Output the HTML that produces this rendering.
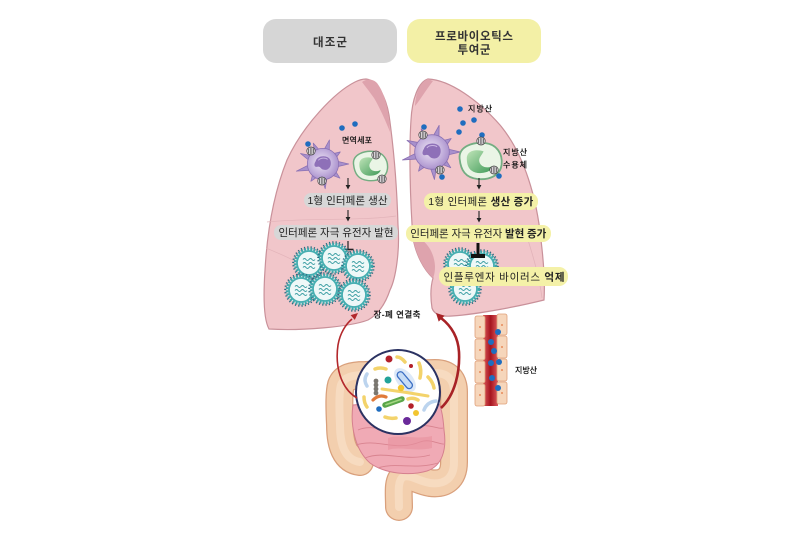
<!DOCTYPE html>
<html><head><meta charset="utf-8"><style>
html,body{margin:0;padding:0;background:#fff;}
svg{display:block;}
text{font-family:"Liberation Sans","Noto Sans CJK KR",sans-serif;}
.sm{fill:#111;stroke:#111;stroke-width:0.25;}
</style></head><body>
<svg width="800" height="539" viewBox="0 0 800 539" xmlns="http://www.w3.org/2000/svg">
<defs>
<radialGradient id="pg" cx="0.45" cy="0.45" r="0.6"><stop offset="0" stop-color="#eee6f4"/><stop offset="0.6" stop-color="#c4b1dd"/><stop offset="1" stop-color="#a58bc9"/></radialGradient>
<linearGradient id="gn" x1="0" y1="0" x2="1" y2="1"><stop offset="0" stop-color="#bfe4b8"/><stop offset="1" stop-color="#3f9a58"/></linearGradient>
<linearGradient id="vr" x1="0" x2="1"><stop offset="0" stop-color="#dc5a5c"/><stop offset="0.5" stop-color="#a5141f"/><stop offset="1" stop-color="#dc5a5c"/></linearGradient>
<g id="dc">
<g fill="#a890cc" stroke="#8a70b3" stroke-width="0.8" stroke-linejoin="round">
<polygon points="14.7,-3.1 28,0 14.7,3.1"/>
<polygon points="13.2,7 18.4,15.4 9.2,11.8"/>
<polygon points="4.4,14.3 2.4,26.9 -1.8,14.9"/>
<polygon points="-5.9,13.8 -13.2,18.8 -11,10.2"/>
<polygon points="-13.4,6.8 -29,7.8 -15,0.8"/>
<polygon points="-14.6,-3.4 -24.5,-11.4 -12,-9"/>
<polygon points="-9,-12 -10.6,-22.7 -3.4,-14.6"/>
<polygon points="0.8,-15 7,-26.1 6.8,-13.4"/>
<polygon points="10.2,-11 18.8,-13.2 13.8,-5.9"/>
</g>
<circle r="17" fill="url(#pg)" stroke="#8a70b3" stroke-width="0.8"/>
<path d="M-8,-3 C-6,-10 6,-10 8,-4 C10,2 6,8 0,6 C-3,5 -3,2 -6,3 C-10,4 -10,0 -8,-3 Z" fill="#8e70b8"/>
<path d="M-5,-4 C-3,-7 3,-7 5,-5" fill="none" stroke="#c9b5e2" stroke-width="1"/>
</g>
<g id="gc">
<path d="M-17,-2 C-18,-12 -6,-16 4,-15 C14,-14 19,-6 18,3 C17,12 8,16 -2,15 C-12,14 -16,8 -17,-2 Z" fill="#eaf5e6" stroke="#74ad82" stroke-width="1.5"/>
<path d="M-11,-2 C-11,-9 -3,-10 3,-8 C1,-4 -2,-2 0,2 C2,6 8,6 11,4 C10,10 -2,12 -7,8 C-10,6 -11,2 -11,-2 Z" fill="url(#gn)"/>
</g>
<g id="rc"><ellipse rx="4.2" ry="4" fill="#f3eef3" stroke="#3a3a3a" stroke-width="0.7"/><path d="M-2.5,-2.5v5M-0.8,-3.2v6.4M0.9,-3.2v6.4M2.6,-2.5v5" stroke="#3a3a3a" stroke-width="0.7"/></g>
<g id="vi">
<circle r="15.8" fill="none" stroke="#2d6a80" stroke-width="2" stroke-dasharray="1.2 2.1"/>
<circle r="14" fill="#d8eff0" stroke="#3fa6aa" stroke-width="2.6" stroke-dasharray="2 1.2"/>
<circle r="12" fill="#eef8f8" stroke="#47aeb1" stroke-width="1.8"/>
<path d="M-6,-3.5 q1.5,-2 3,0 t3,0 t3,0 t3,0 M-6,0.5 q1.5,-2 3,0 t3,0 t3,0 t3,0 M-6,4.5 q1.5,-2 3,0 t3,0 t3,0 t3,0" fill="none" stroke="#3c9ea3" stroke-width="1"/>
</g>
</defs>

<!-- headers -->
<rect x="263" y="19" width="134" height="44" rx="13" fill="#d6d6d6"/>
<text x="330" y="46" font-size="11.5" font-weight="bold" text-anchor="middle" fill="#333" textLength="34">대조군</text>
<rect x="407" y="19" width="134" height="44" rx="13" fill="#f3f0a6"/>
<text x="474" y="40" font-size="11.5" font-weight="bold" text-anchor="middle" fill="#333" textLength="78">프로바이오틱스</text>
<text x="474" y="53.5" font-size="11.5" font-weight="bold" text-anchor="middle" fill="#333" textLength="33">투여군</text>

<!-- left lung -->
<path d="M366,79 C377,80 386,97 389,115 C394,150 397,190 398,225 C400,250 396,278 390,290 C385,305 377,315 368,320 C350,327 300,331 269,329 C264,320 263,300 265,270 C267,235 273,195 287,160 C303,125 335,92 355,82 C359,80 362,79 366,79 Z" fill="#f1c6ca" stroke="#c9919a" stroke-width="1.2"/>
<path d="M362,82 C366,79 372,78 377,83 C384,92 389,108 390,132 C386,122 380,108 374,98 C369,91 365,86 362,82 Z" fill="#dea3ad"/>
<path d="M267,222 C300,218 360,221 396,216 M266,248 C285,256 300,262 310,272" fill="none" stroke="#e2b3b9" stroke-width="0.7"/>

<!-- right lung -->
<path d="M428,79 C450,80 478,100 500,125 C525,155 537,200 541,240 C544,265 545,285 544,300 C520,306 480,314 452,316 C440,317 434,314 432,308 C430,295 431,285 433,278 C424,270 416,255 413,238 C410,200 409,150 411,120 C412,100 418,82 428,79 Z" fill="#f1c6ca" stroke="#c9919a" stroke-width="1.2"/>
<path d="M428,79 C420,82 416,92 415,106 C420,100 426,90 433,81 Z" fill="#dea3ad"/>
<path d="M413,236 C424,238 434,250 435,266 C435,272 434,276 433,278 C424,270 416,255 413,238 Z" fill="#dea3ad"/>
<path d="M528,240 C535,262 540,282 542,298" fill="none" stroke="#e2b3b9" stroke-width="0.8"/>

<!-- left cells -->
<circle cx="342" cy="128" r="2.8" fill="#1f6dbf"/>
<circle cx="355" cy="124" r="2.8" fill="#1f6dbf"/>
<circle cx="308" cy="144" r="2.8" fill="#1f6dbf"/>
<use href="#dc" transform="translate(323,164) scale(0.92)"/>
<use href="#gc" transform="translate(370,166) scale(0.97)"/>
<use href="#rc" x="311" y="151"/>
<use href="#rc" x="322" y="181"/>
<use href="#rc" x="376" y="155"/>
<use href="#rc" x="382" y="179"/>
<text class="sm" x="357" y="143" font-size="8" text-anchor="middle" textLength="30">면역세포</text>

<!-- left flow -->
<line x1="348" y1="178" x2="348" y2="186" stroke="#222" stroke-width="1.1"/>
<polygon points="345.6,185 350.4,185 348,189.5" fill="#222"/>
<rect x="304" y="193" width="87" height="14.5" rx="7" fill="#d7d7d7"/>
<text x="347.5" y="203.8" font-size="10.5" text-anchor="middle" fill="#222" textLength="80">1형 인터페론 생산</text>
<line x1="348" y1="210" x2="348" y2="218" stroke="#222" stroke-width="1.1"/>
<polygon points="345.6,217 350.4,217 348,221.5" fill="#222"/>
<rect x="274" y="225" width="124" height="15" rx="7" fill="#d7d7d7"/>
<text x="336" y="236.2" font-size="10.5" text-anchor="middle" fill="#222" textLength="115">인터페론 자극 유전자 발현</text>
<line x1="348" y1="241" x2="348" y2="249" stroke="#222" stroke-width="1.2"/>
<line x1="342.5" y1="249.5" x2="353.5" y2="249.5" stroke="#222" stroke-width="1.6"/>

<!-- left viruses -->
<use href="#vi" x="309" y="263"/>
<use href="#vi" x="334" y="258"/>
<use href="#vi" x="358" y="266"/>
<use href="#vi" x="301" y="290"/>
<use href="#vi" x="325" y="289"/>
<use href="#vi" x="354" y="295"/>

<!-- right cells -->
<use href="#dc" transform="translate(432,152) scale(1.02)"/>
<use href="#gc" transform="translate(480,161) scale(1.2)"/>
<circle cx="460" cy="109" r="2.8" fill="#1f6dbf"/>
<circle cx="463" cy="123" r="2.8" fill="#1f6dbf"/>
<circle cx="474" cy="120" r="2.8" fill="#1f6dbf"/>
<circle cx="459" cy="132" r="2.8" fill="#1f6dbf"/>
<circle cx="424" cy="127" r="2.8" fill="#1f6dbf"/>
<circle cx="482" cy="135" r="2.8" fill="#1f6dbf"/>
<circle cx="442" cy="177" r="2.8" fill="#1f6dbf"/>
<circle cx="499" cy="176" r="2.8" fill="#1f6dbf"/>
<use href="#rc" x="423" y="135"/>
<use href="#rc" x="440" y="170"/>
<use href="#rc" x="481" y="141"/>
<use href="#rc" x="494" y="170"/>
<text class="sm" x="468" y="111.5" font-size="8" textLength="24">지방산</text>
<text class="sm" x="503" y="155" font-size="8" textLength="24">지방산</text>
<text class="sm" x="503" y="167.5" font-size="8" textLength="24">수용체</text>

<!-- right flow -->
<line x1="479" y1="178" x2="479" y2="186" stroke="#222" stroke-width="1.1"/>
<polygon points="476.6,185 481.4,185 479,189.5" fill="#222"/>
<rect x="424" y="193" width="114" height="17" rx="8" fill="#f4f1a8"/>
<text x="480.8" y="205.2" font-size="10.5" text-anchor="middle" fill="#222" textLength="105">1형 인터페론 <tspan font-weight="bold">생산 증가</tspan></text>
<line x1="479" y1="211" x2="479" y2="219" stroke="#222" stroke-width="1.1"/>
<polygon points="476.6,218 481.4,218 479,222.5" fill="#222"/>
<rect x="406" y="225" width="145" height="17" rx="8" fill="#f4f1a8"/>
<text x="478.3" y="237.2" font-size="10.5" text-anchor="middle" fill="#222" textLength="136">인터페론 자극 유전자 <tspan font-weight="bold">발현 증가</tspan></text>

<!-- right viruses -->
<use href="#vi" x="460" y="264"/>
<use href="#vi" x="482" y="266"/>
<use href="#vi" x="465" y="289"/>
<line x1="478" y1="243" x2="478" y2="255" stroke="#111" stroke-width="3"/>
<rect x="471" y="254" width="14" height="4" fill="#111"/>
<rect x="439" y="267" width="129" height="19" rx="9" fill="#f4f1a8"/>
<text x="504" y="280.3" font-size="10.5" text-anchor="middle" fill="#222" textLength="121">인플루엔자 바이러스 <tspan font-weight="bold">억제</tspan></text>

<text class="sm" x="397" y="317.5" font-size="8.5" text-anchor="middle" textLength="47">장-폐 연결축</text>

<!-- gut: colon -->
<path d="M360,462 C345,460 340,445 340,425 C339,405 339,392 341,385 C344,377 352,375 365,375 L435,373 C448,373 454,380 454,392 L454,462 C454,478 445,485 430,483 C418,481 410,474 403,477 C397,481 399,495 399,507" fill="none" stroke="#d9a07c" stroke-width="28" stroke-linecap="round" stroke-linejoin="round"/>
<path d="M360,462 C345,460 340,445 340,425 C339,405 339,392 341,385 C344,377 352,375 365,375 L435,373 C448,373 454,380 454,392 L454,462 C454,478 445,485 430,483 C418,481 410,474 403,477 C397,481 399,495 399,507" fill="none" stroke="#f3cfae" stroke-width="25.5" stroke-linecap="round" stroke-linejoin="round"/>
<path d="M360,462 C345,460 340,445 340,425 C339,405 339,392 341,385 C344,377 352,375 365,375 L435,373 C448,373 454,380 454,392 L454,462 C454,478 445,485 430,483 C418,481 410,474 403,477 C397,481 399,495 399,507" fill="none" stroke="#f8e0c8" stroke-width="8" stroke-linecap="round" stroke-linejoin="round" opacity="0.7"/>
<!-- small intestine -->
<path d="M353,405 C350,425 355,450 370,463 C385,474 410,476 427,471 C442,466 447,450 444,430 C443,415 441,405 436,398 Z" fill="#f0aab5" stroke="#d5808e" stroke-width="1"/>
<path d="M358,430 C375,422 395,438 415,428 C428,422 438,430 443,428 M356,445 C378,438 395,452 420,442 C430,438 440,445 444,444 M365,458 C385,450 405,462 430,455 M378,468 C395,462 415,470 438,463" fill="none" stroke="#d8838f" stroke-width="0.9"/>
<path d="M388,438 C400,434 415,440 432,436 L432,448 C415,452 400,446 388,450 Z" fill="#e8919e" opacity="0.6"/>

<!-- microbiome circle -->
<circle cx="398" cy="392" r="42" fill="#fff" stroke="#2b3262" stroke-width="2"/>
<ellipse cx="405" cy="380" rx="14" ry="8" transform="rotate(50 405 380)" fill="#dce8f8"/>
<rect x="395" y="377" width="20" height="6.5" rx="3.2" transform="rotate(50 405 380)" fill="#c7dcf5" stroke="#3b6fc4" stroke-width="1.3"/>
<g fill="none" stroke="#f3d36b" stroke-linecap="round" stroke-width="3.5">
<path d="M397,357 Q401,357 405,362"/>
<path d="M419,363 Q422,370 420,378"/>
<path d="M375,369 Q380,367 386,369"/>
<path d="M382,389 Q405,392 428,396" stroke-width="3"/>
<path d="M428,377 Q433,382 434,388"/>
<path d="M364,397 Q364,403 367,407"/>
<path d="M385,417 Q390,419 396,418"/>
<path d="M408,399 Q413,397 418,400"/>
</g>
<g fill="none" stroke="#bcd4ee" stroke-linecap="round" stroke-width="3.5">
<path d="M367,374 Q363,380 367,386"/>
<path d="M424,410 Q427,402 436,401"/>
</g>
<path d="M373,400 Q379,394 386,397" fill="none" stroke="#e07a3a" stroke-width="3.2" stroke-linecap="round"/>
<line x1="385" y1="405" x2="402" y2="399" stroke="#5aa64a" stroke-width="5.5" stroke-linecap="round"/>
<line x1="386" y1="404.6" x2="401" y2="399.4" stroke="#a4d682" stroke-width="1.6" stroke-linecap="round"/>
<g fill="#7a7770"><circle cx="376" cy="381" r="2.4"/><circle cx="376" cy="385" r="2.4"/><circle cx="376" cy="389" r="2.4"/><circle cx="376" cy="393" r="2.4"/></g>
<circle cx="389" cy="359" r="3.5" fill="#b3202a"/>
<circle cx="411" cy="366" r="2" fill="#b3202a"/>
<circle cx="411" cy="406" r="2.8" fill="#b3202a"/>
<circle cx="388" cy="380" r="3.5" fill="#23a39a"/>
<circle cx="401" cy="388" r="3.2" fill="#f2c531"/>
<circle cx="416" cy="413" r="3" fill="#f2c531"/>
<circle cx="379" cy="409" r="2.8" fill="#1f6dbf"/>
<circle cx="407" cy="421" r="4" fill="#6a2a9a"/>

<!-- red arcs -->
<path d="M357,398 C340,388 335,365 338,345 C340,333 346,324 352,319" fill="none" stroke="#b3282c" stroke-width="1.6"/>
<polygon points="358,313 354.8,319.9 350.6,315.1" fill="#b3282c"/>
<path d="M441,408 C455,395 460,372 459,352 C458,335 450,325 441,318" fill="none" stroke="#a82226" stroke-width="2.6"/>
<polygon points="436,313 444.6,315.7 438.7,321.6" fill="#a82226"/>

<!-- blood vessel -->
<rect x="483" y="315" width="15" height="91" fill="url(#vr)"/>
<g fill="#f6d6bb" stroke="#dfa07a" stroke-width="0.8">
<rect x="475" y="316" width="10" height="22" rx="2"/>
<rect x="475" y="339" width="10" height="21" rx="2"/>
<rect x="475" y="361" width="10" height="22" rx="2"/>
<rect x="475" y="384" width="10" height="22" rx="2"/>
<rect x="497" y="314" width="10" height="21" rx="2"/>
<rect x="497" y="336" width="10" height="22" rx="2"/>
<rect x="497" y="359" width="10" height="22" rx="2"/>
<rect x="497" y="382" width="10" height="22" rx="2"/>
</g>
<g fill="#e88b5a"><circle cx="480" cy="327" r="1"/><circle cx="480" cy="350" r="1"/><circle cx="480" cy="372" r="1"/><circle cx="480" cy="395" r="1"/><circle cx="502" cy="325" r="1"/><circle cx="502" cy="347" r="1"/><circle cx="502" cy="370" r="1"/><circle cx="502" cy="393" r="1"/></g>
<g fill="#1f6dbf"><circle cx="498" cy="332" r="3"/><circle cx="491" cy="342" r="3"/><circle cx="494" cy="351" r="3"/><circle cx="491" cy="363" r="3"/><circle cx="499" cy="362" r="3"/><circle cx="492" cy="378" r="3"/><circle cx="498" cy="388" r="3"/></g>
<text class="sm" x="515" y="373" font-size="8" textLength="22">지방산</text>
</svg>
</body></html>
